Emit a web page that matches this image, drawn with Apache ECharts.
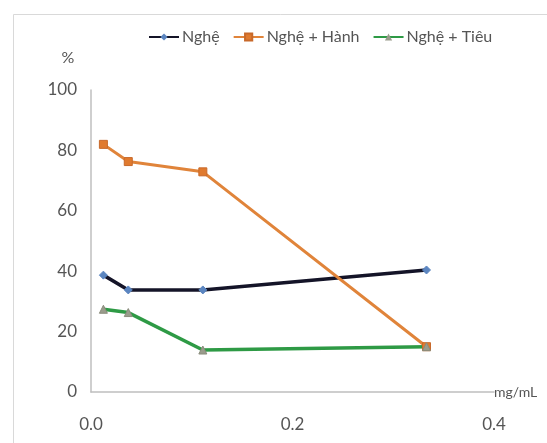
<!DOCTYPE html>
<html>
<head>
<meta charset="utf-8">
<script src="https://cdn.jsdelivr.net/npm/echarts@6/dist/echarts.min.js"></script>
<style>html,body{margin:0;padding:0;background:#fff}#c{width:547px;height:443px}</style>
</head>
<body>
<div id="c"></div>
<script>
const concentrations = [0.0123, 0.037, 0.111, 0.333];
const seriesNames = ['Nghệ', 'Nghệ + Hành', 'Nghệ + Tiêu'];
const ngheValues = [38.7, 33.8, 33.8, 40.4];
const ngheHanhValues = [82.0, 76.3, 72.9, 15.0];
const ngheTieuValues = [27.4, 26.3, 13.9, 15.0];
const xTicks = [0.0, 0.2, 0.4];
const yTicks = [0, 20, 40, 60, 80, 100];

const pair = vals => concentrations.map((x, i) => [x, vals[i]]);
const font = 'Lato, "Open Sans", sans-serif';
const txt = '#555555';

const chart = echarts.init(document.getElementById('c'), null, {renderer: 'canvas'});
chart.setOption({
  animation: false,
  backgroundColor: '#fff',
  graphic: [{
    type: 'rect', left: 11, top: 12, shape: {width: 600, height: 600},
    style: {fill: 'none', stroke: '#d9d9d9', lineWidth: 1}, silent: true, z: -1
  }],
  legend: {
    left: 143, top: 24,
    itemWidth: 30, itemHeight: 9, itemGap: 13,
    textStyle: {fontFamily: font, fontSize: 16, color: txt, padding: [0, 0, 0, -2]},
    data: seriesNames
  },
  grid: {left: 91, right: 53, top: 90, bottom: 51, containLabel: false},
  xAxis: {
    type: 'value', min: 0, max: 0.4, interval: 0.2,
    name: 'mg/mL', nameLocation: 'end', nameGap: 0,
    nameTextStyle: {fontFamily: font, fontSize: 14, color: txt, align: 'left', verticalAlign: 'middle'},
    axisLine: {show: true, lineStyle: {color: '#bfbfbf', width: 1.5}},
    axisTick: {show: false},
    splitLine: {show: false},
    axisLabel: {
      fontFamily: font, fontSize: 17, color: txt, margin: 24,
      formatter: v => { const t = xTicks.find(k => Math.abs(k - v) < 1e-9); return t === undefined ? '' : t.toFixed(1); }
    }
  },
  yAxis: {
    type: 'value', min: 0, max: 100, interval: 20,
    name: '%', nameLocation: 'end', nameGap: 24,
    nameTextStyle: {fontFamily: font, fontSize: 16, color: txt, align: 'center', padding: [0, 46, 0, 0]},
    axisLine: {show: true, lineStyle: {color: '#bfbfbf', width: 1.5}},
    axisTick: {show: false},
    splitLine: {show: false},
    axisLabel: {
      fontFamily: font, fontSize: 17, color: txt, margin: 14,
      formatter: v => yTicks.includes(v) ? String(v) : ''
    }
  },
  series: [
    {
      name: seriesNames[0], type: 'line', data: pair(ngheValues),
      lineStyle: {color: '#141428', width: 3.5},
      symbol: 'diamond', symbolSize: 8,
      itemStyle: {color: '#5b85c0', borderColor: '#5b85c0'}
    },
    {
      name: seriesNames[1], type: 'line', data: pair(ngheHanhValues),
      lineStyle: {color: '#e0843a', width: 3},
      symbol: 'rect', symbolSize: 8,
      itemStyle: {color: '#e07a2e', borderColor: '#c8692a', borderWidth: 1}
    },
    {
      name: seriesNames[2], type: 'line', data: pair(ngheTieuValues),
      lineStyle: {color: '#2e9a45', width: 3.5},
      symbol: 'triangle', symbolSize: 8,
      itemStyle: {color: '#9a9c8c', borderColor: '#8a8c7c'}
    }
  ]
});
</script>
</body>
</html>
